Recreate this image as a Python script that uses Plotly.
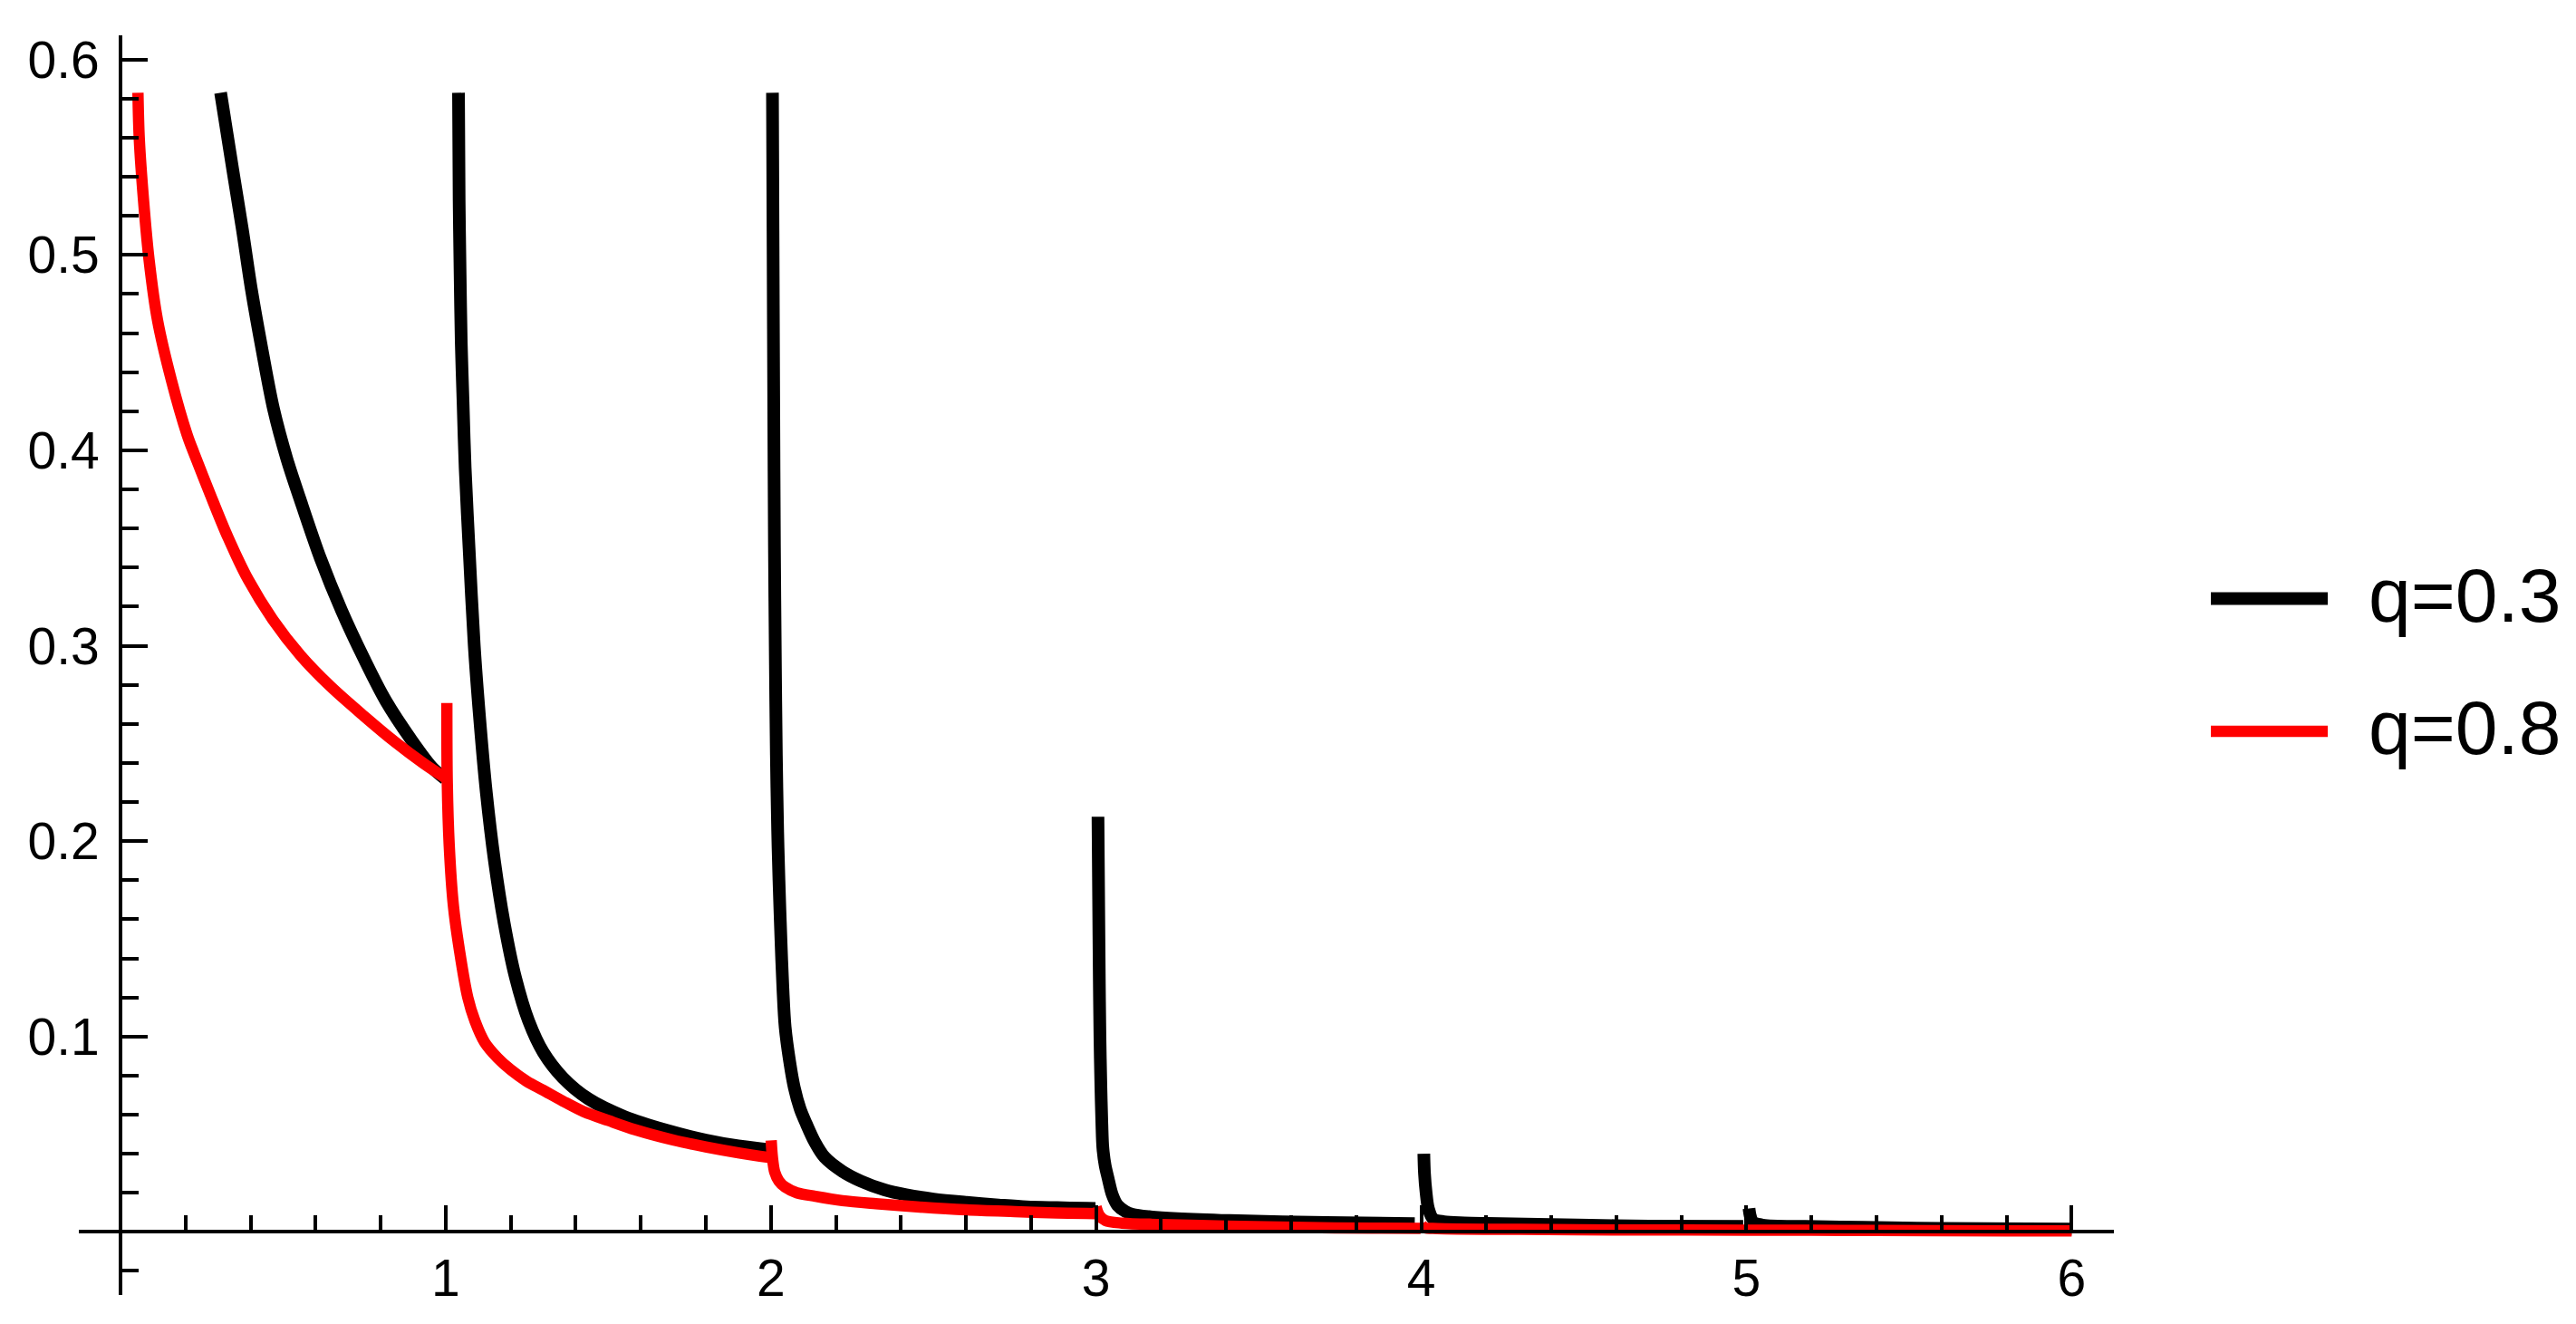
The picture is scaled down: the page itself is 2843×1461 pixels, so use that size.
import plotly.graph_objects as go

# ---------------- data ----------------
# q = 0.3 (black), one list pair per branch between the singular points
q03_b1_x = [0.308, 0.345, 0.375, 0.403, 0.436, 0.471, 0.512, 0.5515, 0.6156, 0.680, 0.749, 0.816, 0.895, 0.958, 0.998]
q03_b1_y = [0.583, 0.544, 0.513, 0.482, 0.451, 0.421, 0.3955, 0.3754, 0.3444, 0.318, 0.2934, 0.2718, 0.2517, 0.2378, 0.232]

q03_b2_x = [1.0395, 1.0415, 1.0445, 1.048, 1.0535, 1.060, 1.072, 1.088, 1.105, 1.125, 1.150, 1.180, 1.215, 1.255, 1.300, 1.360, 1.440, 1.550, 1.680, 1.800, 1.900, 1.998]
q03_b2_y = [0.583, 0.528, 0.490, 0.455, 0.425, 0.391, 0.350, 0.300, 0.262, 0.225, 0.190, 0.158, 0.130, 0.108, 0.092, 0.079, 0.068, 0.059, 0.052, 0.047, 0.044, 0.042]

q03_b3_x = [2.005, 2.007, 2.009, 2.011, 2.014, 2.017, 2.021, 2.025, 2.031, 2.037, 2.044, 2.058, 2.072, 2.090, 2.109, 2.135, 2.165, 2.220, 2.277, 2.350, 2.416, 2.500, 2.602, 2.700, 2.787, 2.880, 2.973, 2.998]
q03_b3_y = [0.583, 0.50, 0.42, 0.352, 0.29, 0.244, 0.205, 0.180, 0.150, 0.125, 0.1048, 0.087, 0.0739, 0.063, 0.0553, 0.046, 0.0383, 0.031, 0.026, 0.0215, 0.019, 0.0168, 0.0151, 0.0138, 0.0128, 0.0124, 0.0121, 0.012]

q03_b4_x = [3.006, 3.008, 3.010, 3.012, 3.015, 3.018, 3.021, 3.028, 3.037, 3.050, 3.066, 3.090, 3.112, 3.163, 3.250, 3.410, 3.710, 3.980]
q03_b4_y = [0.2125, 0.17, 0.13, 0.10, 0.074, 0.055, 0.043, 0.034, 0.0275, 0.019, 0.0136, 0.0105, 0.009, 0.0078, 0.0068, 0.0058, 0.0048, 0.0042]

q03_b5_x = [4.008, 4.010, 4.015, 4.022, 4.037, 4.070, 4.133, 4.207, 4.480, 4.700, 4.990]
q03_b5_y = [0.040, 0.030, 0.020, 0.012, 0.0066, 0.0052, 0.0046, 0.0043, 0.0035, 0.0030, 0.0028]

q03_b6_x = [5.008, 5.012, 5.020, 5.050, 5.180, 5.360, 5.600, 6.000]
q03_b6_y = [0.012, 0.008, 0.005, 0.0035, 0.0028, 0.0024, 0.0018, 0.0015]

# q = 0.8 (red)
q08_b1_x = [0.0538, 0.058, 0.071, 0.088, 0.114, 0.157, 0.205, 0.226, 0.276, 0.331, 0.3936, 0.468, 0.554, 0.647, 0.749, 0.844, 0.932, 0.998]
q08_b1_y = [0.583, 0.559, 0.528, 0.4975, 0.4666, 0.4357, 0.408, 0.3986, 0.3775, 0.3553, 0.3336, 0.3135, 0.295, 0.279, 0.264, 0.2508, 0.2398, 0.2325]

q08_b2_x = [1.0037, 1.005, 1.011, 1.024, 1.043, 1.068, 1.090, 1.120, 1.160, 1.200, 1.250, 1.300, 1.360, 1.425, 1.500, 1.584, 1.700, 1.800, 1.900, 1.998]
q08_b2_y = [0.2707, 0.230, 0.1977, 0.1667, 0.1435, 0.120, 0.108, 0.097, 0.089, 0.083, 0.077, 0.0725, 0.067, 0.0615, 0.057, 0.0522, 0.047, 0.0435, 0.0405, 0.038]

q08_b3_x = [2.001, 2.005, 2.012, 2.025, 2.044, 2.080, 2.137, 2.220, 2.323, 2.450, 2.602, 2.750, 2.880, 2.970, 2.998]
q08_b3_y = [0.0468, 0.038, 0.0306, 0.026, 0.0229, 0.020, 0.0182, 0.016, 0.0144, 0.0128, 0.0113, 0.0104, 0.0097, 0.0094, 0.0093]

q08_b4_x = [3.000, 3.010, 3.029, 3.080, 3.200, 3.400, 3.650, 3.850, 3.998]
q08_b4_y = [0.0128, 0.0085, 0.0058, 0.0045, 0.0038, 0.0030, 0.0022, 0.0019, 0.0018]

q08_b5_x = [4.000, 4.010, 4.050, 4.300, 4.600, 5.000, 5.400, 5.800, 6.000]
q08_b5_y = [0.0040, 0.0022, 0.0017, 0.0013, 0.0010, 0.0009, 0.0007, 0.0005, 0.0005]

series_names = ["q=0.3", "q=0.8"]
x_tick_vals = [1, 2, 3, 4, 5, 6]
x_tick_text = ["1", "2", "3", "4", "5", "6"]
y_tick_vals = [0.1, 0.2, 0.3, 0.4, 0.5, 0.6]
y_tick_text = ["0.1", "0.2", "0.3", "0.4", "0.5", "0.6"]

black_branches = [(q03_b1_x, q03_b1_y), (q03_b2_x, q03_b2_y), (q03_b3_x, q03_b3_y),
                  (q03_b4_x, q03_b4_y), (q03_b5_x, q03_b5_y), (q03_b6_x, q03_b6_y)]
red_branches = [(q08_b1_x, q08_b1_y), (q08_b2_x, q08_b2_y), (q08_b3_x, q08_b3_y),
                (q08_b4_x, q08_b4_y), (q08_b5_x, q08_b5_y)]

# ---------------- layout geometry (pixels) ----------------
W, H = 2843, 1461
PL, PR, PT, PB = 87, 2333, 39, 1429  # plot area edges
XMIN, XMAX = -0.128, 6.13
YMIN, YMAX = -0.0323, 0.6124

FONT = "Liberation Sans, Arial, sans-serif"


def px(xp):
    return (xp - PL) / (PR - PL)


def py(yp):
    return (PB - yp) / (PB - PT)


fig = go.Figure()
for branches, color, lw, name in [(black_branches, "#000000", 14, series_names[0]),
                                  (red_branches, "#ff0000", 12.5, series_names[1])]:
    for bx, by in branches:
        fig.add_trace(go.Scatter(x=bx, y=by, mode="lines", name=name, legendgroup=name,
                                 line=dict(color=color, width=lw, shape="spline", smoothing=0.9),
                                 showlegend=False))

axis_common = dict(showgrid=False, zeroline=False, showline=True, linecolor="black",
                   linewidth=3.7, ticks="inside", tickwidth=4, tickcolor="black",
                   ticklen=28, tickfont=dict(family=FONT, size=57, color="black"),
                   anchor="free", automargin=False)

fig.update_xaxes(range=[XMIN, XMAX], tickmode="array", tickvals=x_tick_vals, ticktext=x_tick_text,
                 position=(0 - YMIN) / (YMAX - YMIN),
                 minor=dict(dtick=0.2, tick0=0, ticks="inside", ticklen=17, tickwidth=4, tickcolor="black"),
                 **axis_common)
fig.update_yaxes(range=[YMIN, YMAX], tickmode="array", tickvals=y_tick_vals, ticktext=y_tick_text,
                 position=(0 - XMIN) / (XMAX - XMIN), ticklabelstandoff=10,
                 minor=dict(dtick=0.02, tick0=0, ticks="inside", ticklen=18, tickwidth=4, tickcolor="black"),
                 **axis_common)

# legend drawn at the right, as in the reference
legend_items = [(series_names[0], "#000000", 14, 660.6, 657), (series_names[1], "#ff0000", 12.5, 807, 803)]
shapes, annotations = [], []
for name, color, lw, yline, ytext in legend_items:
    shapes.append(dict(type="line", xref="paper", yref="paper", x0=px(2440), x1=px(2569),
                       y0=py(yline), y1=py(yline), line=dict(color=color, width=lw)))
    annotations.append(dict(xref="paper", yref="paper", x=px(2612), y=py(ytext), text=name,
                            showarrow=False, xanchor="left", yanchor="middle",
                            font=dict(family=FONT, size=84, color="black")))

fig.update_layout(width=W, height=H, plot_bgcolor="white", paper_bgcolor="white",
                  margin=dict(l=PL, r=W - PR, t=PT, b=H - PB, pad=0, autoexpand=False),
                  showlegend=False, shapes=shapes, annotations=annotations)

# remove the browser's default 8px body margin so the figure sits at the page origin
fig.write_html("out.html",
               config={"displayModeBar": False},
               post_script="document.body.style.margin='0';document.body.style.overflow='hidden';")
